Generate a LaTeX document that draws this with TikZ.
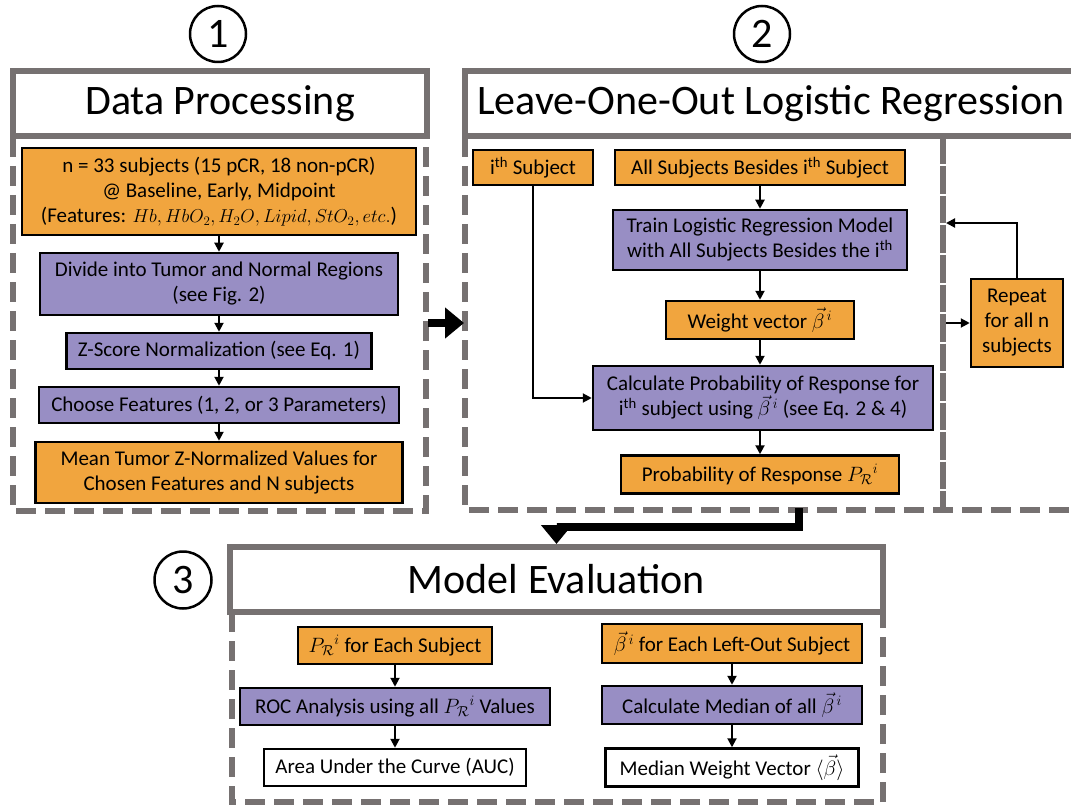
\documentclass[tikz,border=0pt]{standalone}
\usepackage{fontspec}
\setmainfont{Carlito}
\usetikzlibrary{arrows.meta,calc}
\definecolor{orng}{RGB}{241,165,62}
\definecolor{purp}{RGB}{152,142,196}
\definecolor{frm}{RGB}{118,113,113}
\begin{document}
\begin{tikzpicture}[x=1pt,y=-1pt,
  box/.style={draw=black,line width=2.5pt,align=center,inner sep=0pt,font=\fontsize{21}{25}\selectfont},
  obox/.style={box,fill=orng},
  pbox/.style={box,fill=purp},
  wbox/.style={box,fill=white},
  tbox/.style={draw=frm,line width=6pt,fill=white,inner sep=0pt,font=\fontsize{42}{50}\selectfont},
  dframe/.style={draw=frm,line width=6pt,dash pattern=on 20pt off 9pt},
  divline/.style={draw=frm,line width=6pt,dash pattern=on 27.5pt off 2pt},
  num/.style={circle,draw=black,line width=2.5pt,inner sep=0pt,font=\fontsize{42}{46}\selectfont},
  arr/.style={line width=2pt,-{Triangle[length=9pt,width=9pt]}},
  bigarr/.style={line width=8pt,-{Triangle[length=19pt,width=30pt]}},
]
\useasboundingbox (0,0) rectangle (1071,805);
\begin{scope}
\clip (0,0) rectangle (1071,805);
% ---------- frames ----------
\draw[dframe] (13,137) -- (13,511) -- (426,511) -- (426,137);
\draw[dframe] (465,137) -- (465,510) -- (1080,510);
\draw[divline] (943,137) -- (943,510);
\draw[dframe] (232,612) -- (232,802) -- (883,802) -- (883,612);

\node[tbox,minimum width=414pt,minimum height=65pt] (t1) at (220,104) {Data Processing};
\node[tbox,minimum width=612pt,minimum height=65pt] (t2) at (771,104) {Leave-One-Out Logistic Regression};
\node[tbox,minimum width=653pt,minimum height=65pt] (t3) at (556.5,579.5) {Model Evaluation};

\node[num,minimum size=56pt] (c1) at (218,34) {1};
\node[num,minimum size=56pt] (c2) at (762,34) {2};
\node[num,minimum size=57pt] (c3) at (183,580) {3};

% ---------- panel 1 ----------
\node[obox,minimum width=394pt,minimum height=87pt] (p1a) at (219,191.5)
  {n = 33 subjects (15 pCR, 18 non-pCR)\\ @ Baseline, Early, Midpoint\\ (Features: \scalebox{0.9}{$Hb, HbO_2, H_2O, Lipid, StO_2, etc.$})};
\node[pbox,minimum width=358pt,minimum height=62pt] (p1b) at (219,284)
  {Divide into Tumor and Normal Regions\\(see Fig. 2)};
\node[pbox,minimum width=305pt,minimum height=36pt] (p1c) at (219,351)
  {Z-Score Normalization (see Eq. 1)};
\node[pbox,minimum width=360pt,minimum height=36pt] (p1d) at (219,405)
  {Choose Features (1, 2, or 3 Parameters)};
\node[obox,minimum width=367pt,minimum height=61pt] (p1e) at (219,472.5)
  {Mean Tumor Z-Normalized Values for\\Chosen Features and N subjects};
\draw[arr] (p1a) -- (p1b);
\draw[arr] (p1b) -- (p1c);
\draw[arr] (p1c) -- (p1d);
\draw[arr] (p1d) -- (p1e);

% ---------- panel 2 ----------
\node[obox,minimum width=120pt,minimum height=35pt] (ith) at (533,167.5)
  {i\textsuperscript{th} Subject};
\node[obox,minimum width=290pt,minimum height=35pt] (all) at (760,167.5)
  {All Subjects Besides i\textsuperscript{th} Subject};
\node[pbox,minimum width=294pt,minimum height=60pt] (train) at (760,240)
  {Train Logistic Regression Model\\with All Subjects Besides the i\textsuperscript{th}};
\node[obox,minimum width=188pt,minimum height=38pt] (wv) at (760,320)
  {Weight vector $\vec{\beta}^{\,i}$};
\node[pbox,minimum width=340pt,minimum height=64pt] (calc) at (763,398)
  {Calculate Probability of Response for\\ i\textsuperscript{th} subject using $\vec{\beta}^{\,i}$ (see Eq. 2 \& 4)};
\node[obox,minimum width=278pt,minimum height=38pt] (prob) at (760,474.5)
  {Probability of Response ${P_{\mathcal{R}}}^{i}$};
\node[obox,minimum width=92pt,minimum height=88pt] (rep) at (1017,323)
  {Repeat\\for all n\\subjects};
\draw[arr] (all) -- (all |- train.north);
\draw[arr] (train) -- (train |- wv.north);
\draw[arr] (wv) -- (wv |- calc.north);
\draw[arr] (calc.south -| prob) -- (prob);
\draw[arr] (ith.south) |- (calc.west);
\coordinate (rin) at (946,223);
\coordinate (rout) at (946,323);
\draw[arr] (rep.north) |- (rin);
\draw[arr] (rout) -- (rout -| rep.west);

% ---------- big arrows ----------
\coordinate (a1s) at (428,323);
\coordinate (a1e) at (464,323);
\draw[bigarr] (a1s) -- (a1e);
\coordinate (a2s) at (799,508);
\draw[bigarr] (a2s) -- ++(0,19) -| (t3.north);

% ---------- panel 3 ----------
\node[obox,minimum width=194pt,minimum height=37pt] (pr) at (395,645.5)
  {${P_{\mathcal{R}}}^{i}$ for Each Subject};
\node[pbox,minimum width=310pt,minimum height=37pt] (roc) at (395,706.5)
  {ROC Analysis using all ${P_{\mathcal{R}}}^{i}$ Values};
\node[wbox,minimum width=262pt,minimum height=37pt] (auc) at (395,767.5)
  {Area Under the Curve (AUC)};
\node[obox,minimum width=260pt,minimum height=39pt] (bl) at (732,643.5)
  {$\vec{\beta}^{\,i}$ for Each Left-Out Subject};
\node[pbox,minimum width=260pt,minimum height=38pt] (med) at (732,705)
  {Calculate Median of all $\vec{\beta}^{\,i}$};
\node[wbox,minimum width=253pt,minimum height=38pt] (mwv) at (732,767.5)
  {Median Weight Vector $\langle\vec{\beta}\rangle$};
\draw[arr] (pr) -- (roc);
\draw[arr] (roc) -- (auc);
\draw[arr] (bl) -- (med);
\draw[arr] (med) -- (mwv);
\end{scope}
\end{tikzpicture}
\end{document}
